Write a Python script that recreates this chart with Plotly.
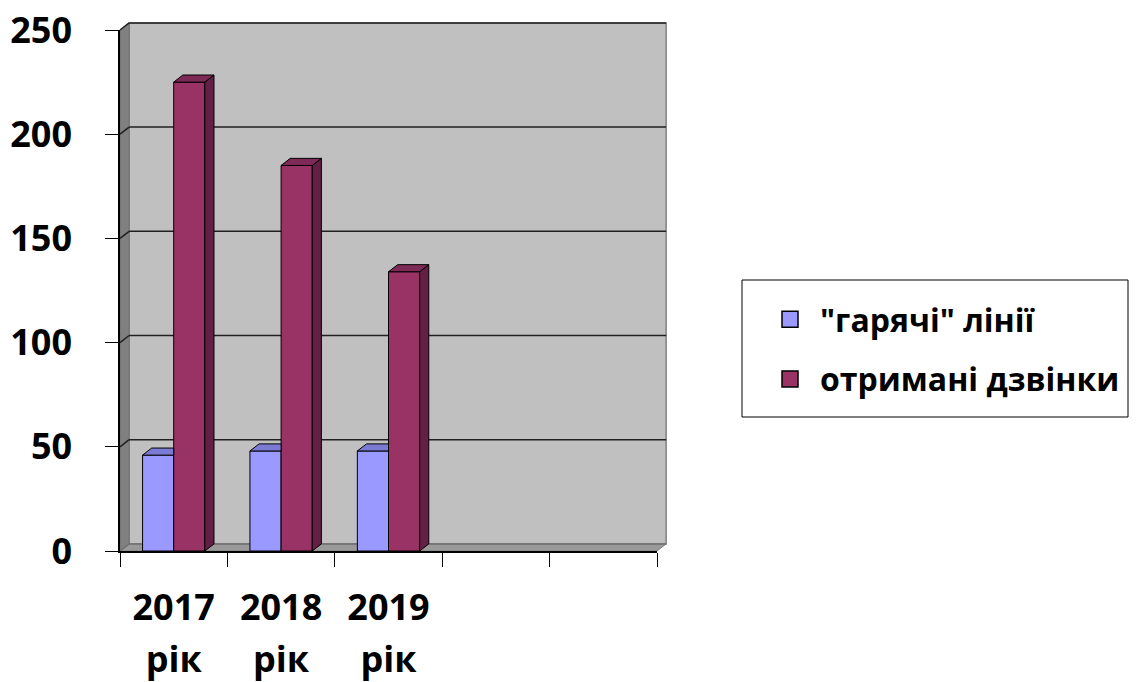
import plotly.graph_objects as go

# ---- data ----
categories = ["2017 рік", "2018 рік", "2019 рік", "", ""]
hot_lines = [46, 48, 48]
calls = [225, 185, 134]
series_names = ['"гарячі" лінії', "отримані дзвінки"]
y_ticks = [0, 50, 100, 150, 200, 250]

# ---- style / geometry ----
FONT = "Open Sans"
BLUE, BLUE_TOP = "#9999FF", "#7B7BD6"
RED, RED_TOP, RED_SIDE = "#993366", "#7E2A56", "#641F45"
X0, X1 = -0.5, len(categories) - 0.5
Y0, Y1 = 0, 250
W = 0.29          # bar width (category units)
DX = 0.085        # depth offset x (category units)
DY = 3.4          # depth offset y (value units)
PL, PT, PW, PH = 120, 30, 537, 521   # plot area in pixels


def px(x):
    return (x - X0) / (X1 - X0)


def py(y):
    return (y - Y0) / (Y1 - Y0)


def ppx(pix):
    return (pix - PL) / PW


def ppy(pix):
    return (PT + PH - pix) / PH


def path(points):
    return "M " + " L ".join(f"{px(x):.5f},{py(y):.5f}" for x, y in points) + " Z"


fig = go.Figure()
idx = list(range(len(hot_lines)))

fig.add_trace(go.Bar(x=idx, y=hot_lines, width=W, offset=-W, marker=dict(color=BLUE, line=dict(color="black", width=1)),
                     showlegend=False, hoverinfo="skip"))
fig.add_trace(go.Bar(x=idx, y=calls, width=W, offset=0, marker=dict(color=RED, line=dict(color="black", width=1)),
                     showlegend=False, hoverinfo="skip"))

# 3D faces
for c, v in zip(idx, hot_lines):
    fig.add_trace(go.Scatter(x=[c - W, c - W + DX, c, c, c - W], y=[v, v + DY, v + DY, v, v], mode="lines",
                             fill="toself", fillcolor=BLUE_TOP, line=dict(color="black", width=1),
                             showlegend=False, hoverinfo="skip"))
for c, v in zip(idx, calls):
    fig.add_trace(go.Scatter(x=[c + W, c + W + DX, c + W + DX, c + W, c + W], y=[0, DY, v + DY, v, 0], mode="lines",
                             fill="toself", fillcolor=RED_SIDE, line=dict(color="black", width=1),
                             showlegend=False, hoverinfo="skip"))
    fig.add_trace(go.Scatter(x=[c, c + DX, c + W + DX, c + W, c], y=[v, v + DY, v + DY, v, v], mode="lines",
                             fill="toself", fillcolor=RED_TOP, line=dict(color="black", width=1),
                             showlegend=False, hoverinfo="skip"))

# legend entries
for name, col in zip(series_names, [BLUE, RED]):
    fig.add_trace(go.Scatter(x=[None], y=[None], mode="markers", name=name, legendgroup=name,
                             marker=dict(symbol="square", size=16, color=col, line=dict(color="black", width=1.5))))

# walls
shapes = []
shapes.append(dict(type="path", xref="paper", yref="paper", layer="below",
                   path=path([(X0 + DX, Y0 + DY), (X1 + DX, Y0 + DY), (X1 + DX, Y1 + DY), (X0 + DX, Y1 + DY)]),
                   fillcolor="#C0C0C0", line=dict(color="#808080", width=1.5)))
shapes.append(dict(type="path", xref="paper", yref="paper", layer="below",
                   path=path([(X0, Y0), (X0 + DX, Y0 + DY), (X0 + DX, Y1 + DY), (X0, Y1)]),
                   fillcolor="#808080", line=dict(color="#707070", width=1)))
shapes.append(dict(type="path", xref="paper", yref="paper", layer="below",
                   path=path([(X0, Y0), (X1, Y0), (X1 + DX, Y0 + DY), (X0 + DX, Y0 + DY)]),
                   fillcolor="#9A9A9A", line=dict(color="#808080", width=1)))
for t in y_ticks:
    col = "#202020" if t > 0 else "#707070"
    shapes.append(dict(type="line", xref="paper", yref="paper", layer="below",
                       x0=px(X0), y0=py(t), x1=px(X0 + DX), y1=py(t + DY), line=dict(color=col, width=1.5)))
    shapes.append(dict(type="line", xref="paper", yref="paper", layer="below",
                       x0=px(X0 + DX), y0=py(t + DY), x1=px(X1 + DX), y1=py(t + DY), line=dict(color=col, width=1.5)))
# legend frame
shapes.append(dict(type="rect", xref="paper", yref="paper", layer="below",
                   x0=ppx(742), x1=ppx(1128), y0=ppy(417), y1=ppy(280),
                   fillcolor="white", line=dict(color="black", width=1)))

tick_font = dict(family=FONT, size=36, color="black", weight="bold")
line1 = [c.split(" ")[0] if c else "" for c in categories]
line2 = [c.split(" ")[1] if " " in c else "" for c in categories]

label_axis = dict(overlaying="x", matches="x", side="bottom", anchor="y", range=[X0, X1],
                  tickvals=list(range(len(categories))), ticks="", tickfont=tick_font,
                  showline=False, showgrid=False, zeroline=False, automargin=False)

fig.update_layout(
    width=1139, height=682,
    margin=dict(l=PL, r=1139 - PL - PW, t=PT, b=682 - PT - PH),
    paper_bgcolor="white", plot_bgcolor="rgba(0,0,0,0)",
    barmode="overlay",
    shapes=shapes,
    xaxis=dict(range=[X0, X1], tickvals=[i - 0.5 for i in range(len(categories) + 1)],
               ticks="outside", ticklen=14, tickcolor="black", showticklabels=False, automargin=False,
               showline=True, linecolor="black", linewidth=1.5, showgrid=False, zeroline=False, fixedrange=True),
    xaxis2=dict(label_axis, ticktext=line1, ticklabelstandoff=32),
    xaxis3=dict(label_axis, ticktext=line2, ticklabelstandoff=84),
    yaxis=dict(range=[Y0, Y1], tickvals=y_ticks, ticks="outside", ticklen=13, tickcolor="black",
               tickfont=tick_font, ticklabelstandoff=26, automargin=False,
               showline=True, linecolor="black", linewidth=1.5, showgrid=False, zeroline=False),
    legend=dict(x=ppx(760), y=ppy(292), xanchor="left", yanchor="top",
                font=dict(family=FONT, size=32, color="black", weight="bold"),
                borderwidth=0, bgcolor="rgba(0,0,0,0)", itemwidth=50,
                tracegroupgap=15, traceorder="grouped"),
)
fig.add_trace(go.Scatter(x=[None], y=[None], xaxis="x2", yaxis="y", showlegend=False, hoverinfo="skip"))
fig.add_trace(go.Scatter(x=[None], y=[None], xaxis="x3", yaxis="y", showlegend=False, hoverinfo="skip"))

fig.write_html("out.html", config={"displayModeBar": False},
               post_script="document.body.style.margin='0';")
